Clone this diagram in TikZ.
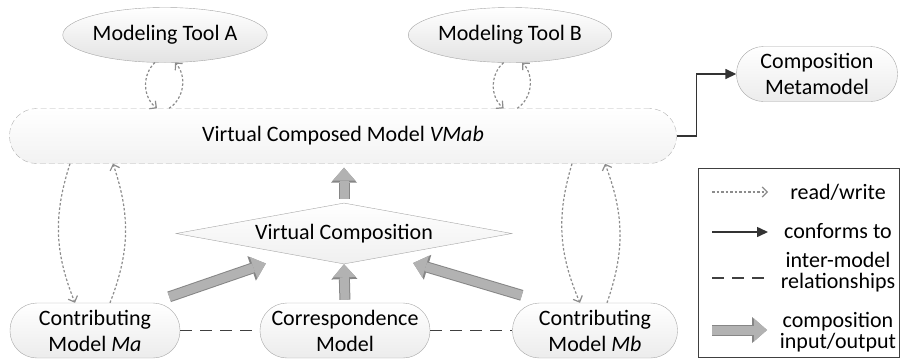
\documentclass[tikz,border=0pt]{standalone}
\usepackage{fontspec}
\setmainfont{Carlito}
\usetikzlibrary{shapes.geometric,arrows.meta}

\begin{document}
\begin{tikzpicture}[x=1pt,y=-1pt,
    font=\fontsize{22}{26}\selectfont,
    tool/.style={ellipse,draw=gray!70,top color=white,bottom color=gray!22,minimum width=196pt,minimum height=55pt,inner sep=0pt},
    model/.style={rectangle,rounded corners=27pt,draw=gray!70,top color=white,bottom color=gray!15,minimum height=55pt,inner sep=0pt,align=center},
    rw/.style={gray!90,line width=1.2pt,dash pattern=on 2.5pt off 2pt,-{Straight Barb[length=5pt,width=10pt]}},
    conf/.style={black!80,line width=1.5pt,-{Triangle[length=11pt,width=10pt]}},
    rel/.style={black!75,line width=1.2pt,dash pattern=on 12pt off 8pt},
    comp/.style={gray!60,line width=9pt,-{Triangle[length=13pt,width=23pt,line width=0pt]},
        preaction={draw=gray!95,line width=11pt,-{Triangle[length=15pt,width=26pt,line width=0pt]}}},
    leg/.style={align=center,font=\fontsize{22}{21}\selectfont}]
        \useasboundingbox (0,0) rectangle (901,360);

        \node[tool] (toolA) at (165,35) {Modeling Tool A};
        \node[tool] (toolB) at (510,35) {Modeling Tool B};
        \node[model,draw=gray!60,dash pattern=on 6pt off 3pt,minimum width=667pt,bottom color=gray!10] (vmab) at (343,136) {Virtual Composed Model \textit{VMab}};
        \node[model,minimum width=161pt] (meta) at (817,74) {Composition\\Metamodel};
        \node[diamond,draw=gray!70,top color=white,bottom color=gray!12,aspect=5.6,minimum width=336pt,minimum height=61pt,inner sep=0pt] (vc) at (344,233.5) {Virtual Composition};
        \node[model,minimum width=170pt] (ma) at (95,330.5) {Contributing\\Model \textit{Ma}};
        \node[model,minimum width=170pt] (corr) at (345,330.5) {Correspondence\\Model};
        \node[model,minimum width=165pt] (mb) at (595,330.5) {Contributing\\Model \textit{Mb}};

        \draw[conf] (vmab.east) -- ++(20,0) |- (meta.west);

        \draw[rw] (toolA.250) to[bend right=50] ([xshift=2pt]vmab.north -| toolA.250);
        \draw[rw] ([xshift=-6pt]vmab.north -| toolA.290) to[bend right=50] (toolA.290);
        \draw[rw] (toolB.257) to[bend right=50] (vmab.north -| toolB.257);
        \draw[rw] ([xshift=-5pt]vmab.north -| toolB.294) to[bend right=50] (toolB.294);

        \draw[rw] ([xshift=-25pt]vmab.south -| ma.north) to[bend right=20] ([xshift=-20pt]ma.north);
        \draw[rw] ([xshift=15pt]ma.north) to[bend right=20] ([xshift=18pt]vmab.south -| ma.north);
        \draw[rw] ([xshift=-23pt]vmab.south -| mb.north) to[bend right=20] ([xshift=-15pt]mb.north);
        \draw[rw] ([xshift=12pt]mb.north) to[bend right=20] ([xshift=10pt]vmab.south -| mb.north);

        \draw[comp,shorten <=3pt] (corr.north) -- (vc.south);
        \draw[comp,shorten <=4pt,shorten >=4pt] (vc.north) -- (vc.north |- vmab.south);
        \draw[comp] ([shift={(-11pt,6pt)}]ma.north east) -- ([shift={(90pt,-30pt)}]vc.west);
        \draw[comp] ([shift={(9.5pt,7.5pt)}]mb.north west) -- ([shift={(-99pt,-29.5pt)}]vc.east);

        \draw[rel] (ma.east) -- (corr.west);
        \draw[rel] (corr.east) -- (mb.west);

        \draw[gray!50!black,line width=0.8pt] (698,168) rectangle (899,357);
        \node[leg] (lrw) at (838,192) {read/write};
        \node[leg] (lconf) at (838,231) {conforms to};
        \node[leg] (lrel) at (838,272) {inter-model\\relationships};
        \node[leg] (lcomp) at (838,332) {composition\\input/output};
        \coordinate (rwa) at (712,192);
        \coordinate (rwb) at (768,192);
        \coordinate (confa) at (712,232);
        \coordinate (confb) at (768,232);
        \coordinate (rela) at (712,278);
        \coordinate (relb) at (768,278);
        \coordinate (compa) at (712,330);
        \coordinate (compb) at (767,330);
        \draw[rw] (rwa) -- (rwb);
        \draw[conf] (confa) -- (confb);
        \draw[rel] (rela) -- (relb);
        \draw[comp] (compa) -- (compb);
      \end{tikzpicture}
\end{document}
